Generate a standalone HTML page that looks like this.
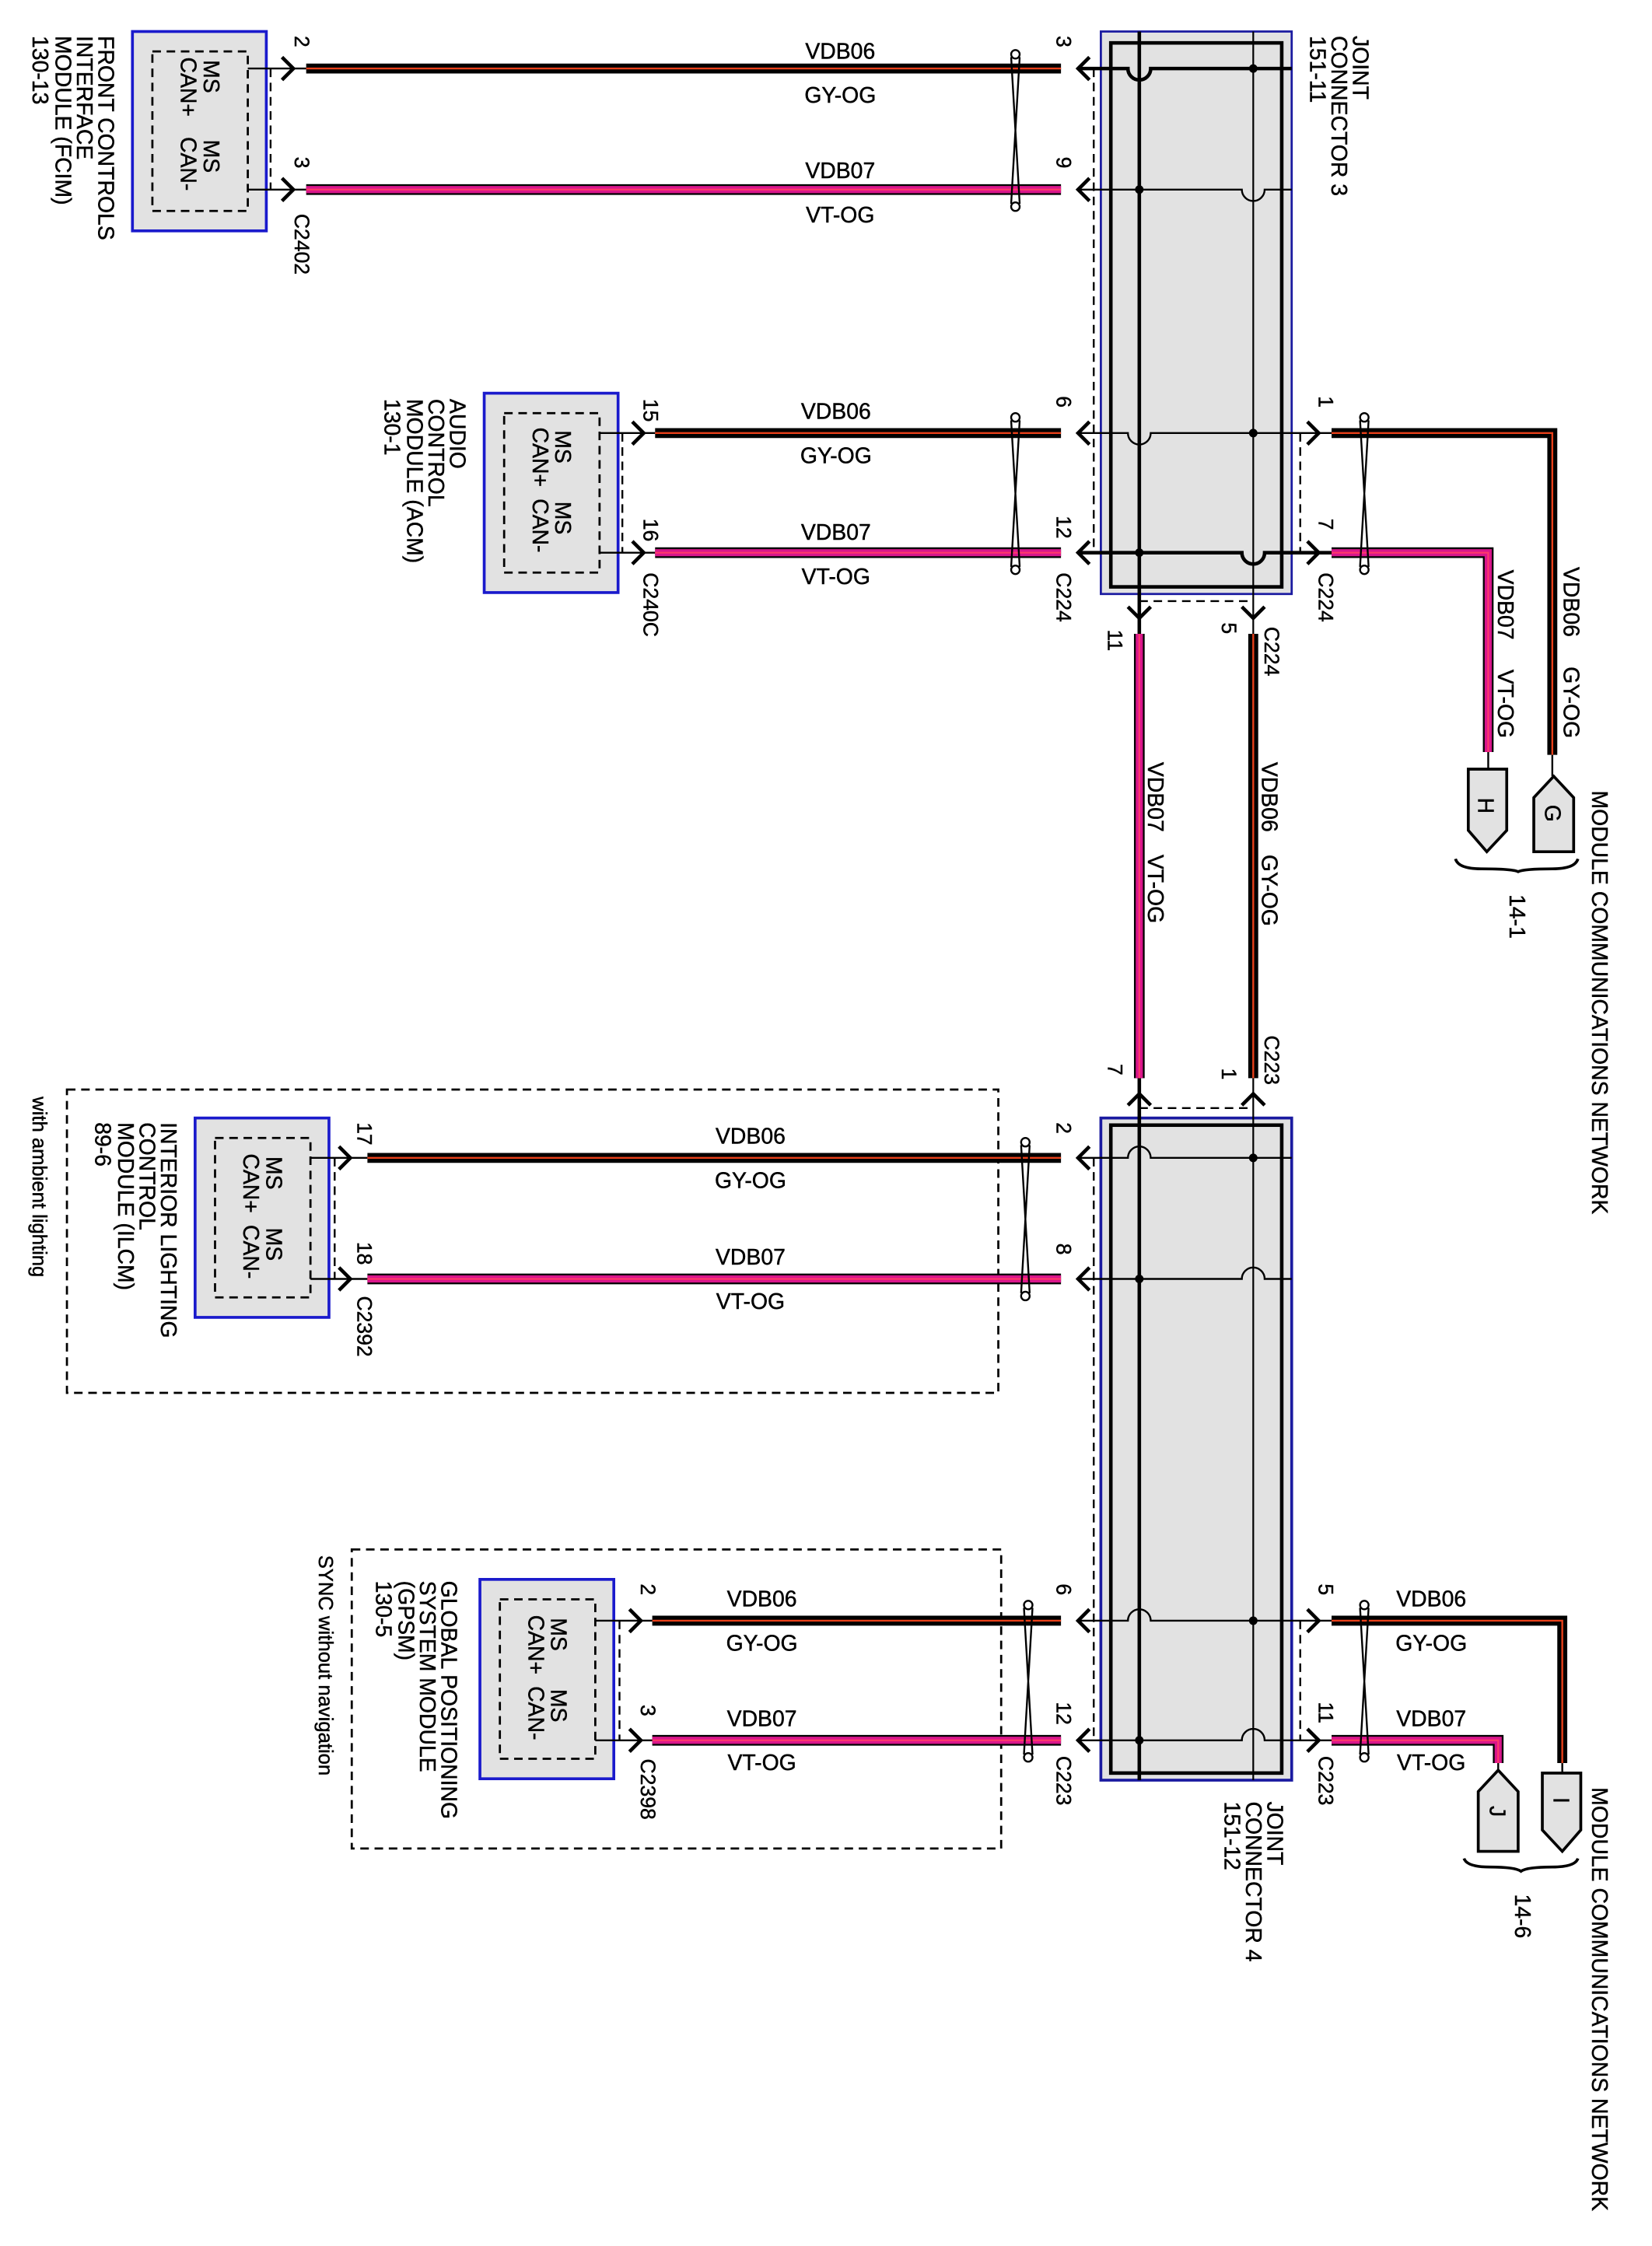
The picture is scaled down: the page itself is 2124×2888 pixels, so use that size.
<!DOCTYPE html>
<html><head><meta charset="utf-8"><style>
html,body{margin:0;padding:0;background:#fff;}
svg{display:block;}
text{font-family:"Liberation Sans",Arial,sans-serif;fill:#000;stroke:#000;stroke-width:0.25;}
.w{font-size:15.5px;text-anchor:middle;}
.r{font-size:15.5px;}
.n{font-size:14.5px;}
</style></head><body>
<svg width="2124" height="2888" viewBox="0 0 1160 1577" xmlns="http://www.w3.org/2000/svg">
<rect width="1160" height="1577" fill="#fff"/>
<rect x="47" y="765" width="654" height="213" fill="none" stroke="#000" stroke-width="1.5" stroke-dasharray="6,4"/>
<rect x="247" y="1088" width="456" height="210" fill="none" stroke="#000" stroke-width="1.5" stroke-dasharray="6,4"/>

<rect x="773" y="22" width="134" height="395" fill="#e2e2e2" stroke="#1a1aa0" stroke-width="1.5"/>
<rect x="780" y="30" width="120" height="382" fill="none" stroke="#000" stroke-width="2.5"/>
<rect x="773" y="785" width="134" height="465" fill="#e2e2e2" stroke="#1a1aa0" stroke-width="2"/>
<rect x="780" y="790" width="120" height="455" fill="none" stroke="#000" stroke-width="2.5"/>

<g fill="#e2e2e2" stroke="#1a1acc" stroke-width="2">
<rect x="93" y="22" width="94" height="140"/>
<rect x="340" y="276" width="94" height="140"/>
<rect x="137" y="785" width="94" height="140"/>
<rect x="337" y="1109" width="94" height="140"/>
</g>
<g fill="none" stroke="#000" stroke-width="1.5" stroke-dasharray="6,4">
<rect x="107" y="36" width="67" height="112"/>
<rect x="354" y="290" width="67" height="112"/>
<rect x="151" y="799" width="67" height="112"/>
<rect x="351" y="1123" width="67" height="112"/>
</g>

<g stroke="#000">
<line x1="800" y1="22" x2="800" y2="445" stroke-width="2.5"/>
<line x1="880" y1="22" x2="880" y2="445" stroke-width="1.2"/>
<line x1="800" y1="757" x2="800" y2="1250" stroke-width="2.5"/>
<line x1="880" y1="757" x2="880" y2="1250" stroke-width="1.2"/>
</g>
<g fill="none" stroke="#000">
<path d="M757 48 H792 A8 8 0 0 0 808 48 H907" stroke-width="2.5"/>
<path d="M757 133 H872 A8 8 0 0 0 888 133 H907" stroke-width="1.3"/>
<path d="M757 304 H792 A8 8 0 0 0 808 304 H935" stroke-width="1.3"/>
<path d="M757 388 H872 A8 8 0 0 0 888 388 H935" stroke-width="2.5"/>
<path d="M757 813 H792 A8 8 0 0 1 808 813 H907" stroke-width="1.3"/>
<path d="M757 898 H872 A8 8 0 0 1 888 898 H907" stroke-width="1.3"/>
<path d="M757 1138 H792 A8 8 0 0 1 808 1138 H935" stroke-width="1.3"/>
<path d="M757 1222 H872 A8 8 0 0 1 888 1222 H935" stroke-width="1.3"/>
</g>
<g fill="#000">
<circle cx="880" cy="48" r="3"/><circle cx="800" cy="133" r="3"/>
<circle cx="880" cy="304" r="3"/><circle cx="800" cy="388" r="3"/>
<circle cx="880" cy="813" r="3"/><circle cx="800" cy="898" r="3"/>
<circle cx="880" cy="1138" r="3"/><circle cx="800" cy="1222" r="3"/>
</g>

<g stroke="#000" stroke-width="1.3" fill="none">
<path d="M174 48 H215 M174 133 H215"/>
<path d="M421 304 H460 M421 388 H460"/>
<path d="M218 813 H258 M218 898 H258"/>
<path d="M418 1138 H458 M418 1222 H458"/>
</g>

<g stroke="#000" stroke-width="1.3" stroke-dasharray="6,4" fill="none">
<line x1="190" y1="48" x2="190" y2="133"/>
<line x1="437" y1="304" x2="437" y2="388"/>
<line x1="235" y1="813" x2="235" y2="898"/>
<line x1="435" y1="1138" x2="435" y2="1222"/>
<line x1="768" y1="48" x2="768" y2="388"/>
<line x1="913" y1="304" x2="913" y2="388"/>
<line x1="800" y1="422" x2="880" y2="422"/>
<line x1="800" y1="778" x2="880" y2="778"/>
<line x1="768" y1="813" x2="768" y2="1222"/>
<line x1="913" y1="1138" x2="913" y2="1222"/>
</g>

<g stroke="#000" stroke-width="2.5" fill="none">
<path d="M198 40 Q204 46 206 48 Q204 50 198 56"/><path d="M198 125 Q204 131 206 133 Q204 135 198 141"/>
<path d="M444 296 Q450 302 452 304 Q450 306 444 312"/><path d="M444 380 Q450 386 452 388 Q450 390 444 396"/>
<path d="M238 805 Q244 811 246 813 Q244 815 238 821"/><path d="M238 890 Q244 896 246 898 Q244 900 238 906"/>
<path d="M442 1130 Q448 1136 450 1138 Q448 1140 442 1146"/><path d="M442 1214 Q448 1220 450 1222 Q448 1224 442 1230"/>
<path d="M918 296 Q924 302 926 304 Q924 306 918 312"/><path d="M918 380 Q924 386 926 388 Q924 390 918 396"/>
<path d="M918 1130 Q924 1136 926 1138 Q924 1140 918 1146"/><path d="M918 1214 Q924 1220 926 1222 Q924 1224 918 1230"/>
<path d="M765 40 Q759 46 757 48 Q759 50 765 56"/><path d="M765 125 Q759 131 757 133 Q759 135 765 141"/>
<path d="M765 296 Q759 302 757 304 Q759 306 765 312"/><path d="M765 380 Q759 386 757 388 Q759 390 765 396"/>
<path d="M765 805 Q759 811 757 813 Q759 815 765 821"/><path d="M765 890 Q759 896 757 898 Q759 900 765 906"/>
<path d="M765 1130 Q759 1136 757 1138 Q759 1140 765 1146"/><path d="M765 1214 Q759 1220 757 1222 Q759 1224 765 1230"/>
<path d="M792 426 Q798 432 800 434 Q802 432 808 426"/><path d="M872 426 Q878 432 880 434 Q882 432 888 426"/>
<path d="M792 776 Q798 770 800 768 Q802 770 808 776"/><path d="M872 776 Q878 770 880 768 Q882 770 888 776"/>
</g>

<g fill="none" stroke-linejoin="miter">
<g stroke="#000" stroke-width="7">
<path d="M215 48 H745"/><path d="M460 304 H745"/><path d="M258 813 H745"/><path d="M458 1138 H745"/>
<path d="M935 304 H1090 V530"/><path d="M880 445 V757"/><path d="M935 1138 H1097 V1238"/>
</g>
<g stroke="#e8401a" stroke-width="1.3">
<path d="M215 48 H745"/><path d="M460 304 H745"/><path d="M258 813 H745"/><path d="M458 1138 H745"/>
<path d="M935 304 H1090 V530"/><path d="M880 445 V757"/><path d="M935 1138 H1097 V1238"/>
</g>
<g stroke="#000" stroke-width="7.5">
<path d="M215 133 H745"/><path d="M460 388 H745"/><path d="M258 898 H745"/><path d="M458 1222 H745"/>
<path d="M935 388 H1045 V528"/><path d="M800 445 V757"/><path d="M935 1222 H1052 V1238"/>
</g>
<g stroke="#d9168c" stroke-width="5">
<path d="M215 133 H745"/><path d="M460 388 H745"/><path d="M258 898 H745"/><path d="M458 1222 H745"/>
<path d="M935 388 H1045 V528"/><path d="M800 445 V757"/><path d="M935 1222 H1052 V1238"/>
</g>
<g stroke="#ff3a6a" stroke-width="1.2">
<path d="M215 133 H745"/><path d="M460 388 H745"/><path d="M258 898 H745"/><path d="M458 1222 H745"/>
<path d="M935 388 H1045 V528"/><path d="M800 445 V757"/><path d="M935 1222 H1052 V1238"/>
</g>
</g>

<g fill="none" stroke="#000" stroke-width="1.3">
<path d="M710 40 L716 143 M716 40 L710 143"/><circle cx="713" cy="38" r="3"/><circle cx="713" cy="145" r="3"/>
<path d="M710 295 L716 398 M716 295 L710 398"/><circle cx="713" cy="293" r="3"/><circle cx="713" cy="400" r="3"/>
<path d="M717 804 L723 908 M723 804 L717 908"/><circle cx="720" cy="802" r="3"/><circle cx="720" cy="910" r="3"/>
<path d="M719 1129 L725 1232 M725 1129 L719 1232"/><circle cx="722" cy="1127" r="3"/><circle cx="722" cy="1234" r="3"/>
<path d="M955 295 L961 398 M961 295 L955 398"/><circle cx="958" cy="293" r="3"/><circle cx="958" cy="400" r="3"/>
<path d="M955 1129 L961 1232 M961 1129 L955 1232"/><circle cx="958" cy="1127" r="3"/><circle cx="958" cy="1234" r="3"/>
</g>

<g stroke="#000" stroke-width="1.3">
<line x1="1090" y1="530" x2="1090" y2="545"/><line x1="1045" y1="528" x2="1045" y2="540"/>
<line x1="1097" y1="1238" x2="1097" y2="1245"/><line x1="1052" y1="1238" x2="1052" y2="1243"/>
</g>
<g fill="#e2e2e2" stroke="#000" stroke-width="2">
<polygon points="1077,560 1091,545 1105,560 1105,598 1077,598"/>
<polygon points="1031,540 1058,540 1058,583 1044,598 1031,583"/>
<polygon points="1083,1245 1110,1245 1110,1285 1097,1300 1083,1285"/>
<polygon points="1038,1258 1052,1243 1066,1258 1066,1300 1038,1300"/>
</g>
<g fill="none" stroke="#000" stroke-width="2">
<path d="M1022 603 Q1024 610 1040 610 Q1062 610 1066 612 Q1070 610 1090 610 Q1106 610 1108 603"/>
<path d="M1028 1305 Q1030 1311 1046 1311 Q1064 1311 1068 1314 Q1072 1311 1090 1311 Q1106 1311 1108 1305"/>
</g>
<g class="r">
<text transform="translate(1085,565) rotate(90)">G</text>
<text transform="translate(1038,560) rotate(90)">H</text>
<text transform="translate(1091,1262) rotate(90)">I</text>
<text transform="translate(1046,1268) rotate(90)">J</text>
</g>

<g class="w">
<text x="590" y="41">VDB06</text><text x="590" y="72">GY-OG</text>
<text x="590" y="125">VDB07</text><text x="590" y="156">VT-OG</text>
<text x="587" y="294">VDB06</text><text x="587" y="325">GY-OG</text>
<text x="587" y="379">VDB07</text><text x="587" y="410">VT-OG</text>
<text x="527" y="803">VDB06</text><text x="527" y="834">GY-OG</text>
<text x="527" y="888">VDB07</text><text x="527" y="919">VT-OG</text>
<text x="535" y="1128">VDB06</text><text x="535" y="1159">GY-OG</text>
<text x="535" y="1212">VDB07</text><text x="535" y="1243">VT-OG</text>
<text x="1005" y="1128">VDB06</text><text x="1005" y="1159">GY-OG</text>
<text x="1005" y="1212">VDB07</text><text x="1005" y="1243">VT-OG</text>
</g>

<g class="r">
<text transform="translate(1098,398) rotate(90)">VDB06</text><text transform="translate(1098,468) rotate(90)">GY-OG</text>
<text transform="translate(1052,400) rotate(90)">VDB07</text><text transform="translate(1052,470) rotate(90)">VT-OG</text>
<text transform="translate(806,535) rotate(90)">VDB07</text><text transform="translate(806,600) rotate(90)">VT-OG</text>
<text transform="translate(886,535) rotate(90)">VDB06</text><text transform="translate(886,600) rotate(90)">GY-OG</text>

<text transform="translate(143,42) rotate(90)">MS</text><text transform="translate(127,40) rotate(90)">CAN+</text>
<text transform="translate(143,98) rotate(90)">MS</text><text transform="translate(127,96) rotate(90)">CAN-</text>
<text transform="translate(390,302) rotate(90)">MS</text><text transform="translate(374,300) rotate(90)">CAN+</text>
<text transform="translate(390,352) rotate(90)">MS</text><text transform="translate(374,350) rotate(90)">CAN-</text>
<text transform="translate(187,812) rotate(90)">MS</text><text transform="translate(171,810) rotate(90)">CAN+</text>
<text transform="translate(187,862) rotate(90)">MS</text><text transform="translate(171,860) rotate(90)">CAN-</text>
<text transform="translate(387,1136) rotate(90)">MS</text><text transform="translate(371,1134) rotate(90)">CAN+</text>
<text transform="translate(387,1186) rotate(90)">MS</text><text transform="translate(371,1184) rotate(90)">CAN-</text>

<text transform="translate(69,25) rotate(90)">FRONT CONTROLS</text>
<text transform="translate(54,25) rotate(90)">INTERFACE</text>
<text transform="translate(39,25) rotate(90)">MODULE (FCIM)</text>
<text transform="translate(23,25) rotate(90)">130-13</text>

<text transform="translate(316,280) rotate(90)">AUDIO</text>
<text transform="translate(301,280) rotate(90)">CONTROL</text>
<text transform="translate(286,280) rotate(90)">MODULE (ACM)</text>
<text transform="translate(270,280) rotate(90)">130-1</text>

<text transform="translate(113,788) rotate(90)">INTERIOR LIGHTING</text>
<text transform="translate(98,788) rotate(90)">CONTROL</text>
<text transform="translate(83,788) rotate(90)">MODULE (ILCM)</text>
<text transform="translate(67,788) rotate(90)">89-6</text>
<text transform="translate(23,770) rotate(90)" style="font-size:14px">with ambient lighting</text>

<text transform="translate(310,1110) rotate(90)">GLOBAL POSITIONING</text>
<text transform="translate(295,1110) rotate(90)">SYSTEM MODULE</text>
<text transform="translate(280,1110) rotate(90)">(GPSM)</text>
<text transform="translate(264,1110) rotate(90)">130-5</text>
<text transform="translate(224,1092) rotate(90)" style="font-size:14px">SYNC without navigation</text>

<text transform="translate(950,25) rotate(90)">JOINT</text>
<text transform="translate(935,25) rotate(90)">CONNECTOR 3</text>
<text transform="translate(920,25) rotate(90)">151-11</text>
<text transform="translate(890,1265) rotate(90)">JOINT</text>
<text transform="translate(875,1265) rotate(90)">CONNECTOR 4</text>
<text transform="translate(860,1265) rotate(90)">151-12</text>

<text transform="translate(1118,555) rotate(90)">MODULE COMMUNICATIONS NETWORK</text>
<text transform="translate(1118,1255) rotate(90)">MODULE COMMUNICATIONS NETWORK</text>
<text transform="translate(1060,628) rotate(90)">14-1</text>
<text transform="translate(1064,1330) rotate(90)">14-6</text>
</g>

<g class="n">
<text transform="translate(207,25) rotate(90)">2</text>
<text transform="translate(207,110) rotate(90)">3</text>
<text transform="translate(207,150) rotate(90)">C2402</text>
<text transform="translate(452,280) rotate(90)">15</text>
<text transform="translate(452,364) rotate(90)">16</text>
<text transform="translate(452,402) rotate(90)">C240C</text>
<text transform="translate(251,788) rotate(90)">17</text>
<text transform="translate(251,872) rotate(90)">18</text>
<text transform="translate(251,910) rotate(90)">C2392</text>
<text transform="translate(450,1112) rotate(90)">2</text>
<text transform="translate(450,1197) rotate(90)">3</text>
<text transform="translate(450,1235) rotate(90)">C2398</text>

<text transform="translate(742,25) rotate(90)">3</text>
<text transform="translate(742,110) rotate(90)">9</text>
<text transform="translate(742,278) rotate(90)">6</text>
<text transform="translate(742,362) rotate(90)">12</text>
<text transform="translate(742,402) rotate(90)">C224</text>
<text transform="translate(926,278) rotate(90)">1</text>
<text transform="translate(926,364) rotate(90)">7</text>
<text transform="translate(926,402) rotate(90)">C224</text>
<text transform="translate(778,442) rotate(90)">11</text>
<text transform="translate(858,437) rotate(90)">5</text>
<text transform="translate(888,440) rotate(90)">C224</text>

<text transform="translate(778,747) rotate(90)">7</text>
<text transform="translate(858,750) rotate(90)">1</text>
<text transform="translate(888,727) rotate(90)">C223</text>
<text transform="translate(742,788) rotate(90)">2</text>
<text transform="translate(742,873) rotate(90)">8</text>
<text transform="translate(742,1112) rotate(90)">6</text>
<text transform="translate(742,1195) rotate(90)">12</text>
<text transform="translate(742,1233) rotate(90)">C223</text>
<text transform="translate(926,1112) rotate(90)">5</text>
<text transform="translate(926,1195) rotate(90)">11</text>
<text transform="translate(926,1233) rotate(90)">C223</text>
</g>
</svg>
</body></html>
